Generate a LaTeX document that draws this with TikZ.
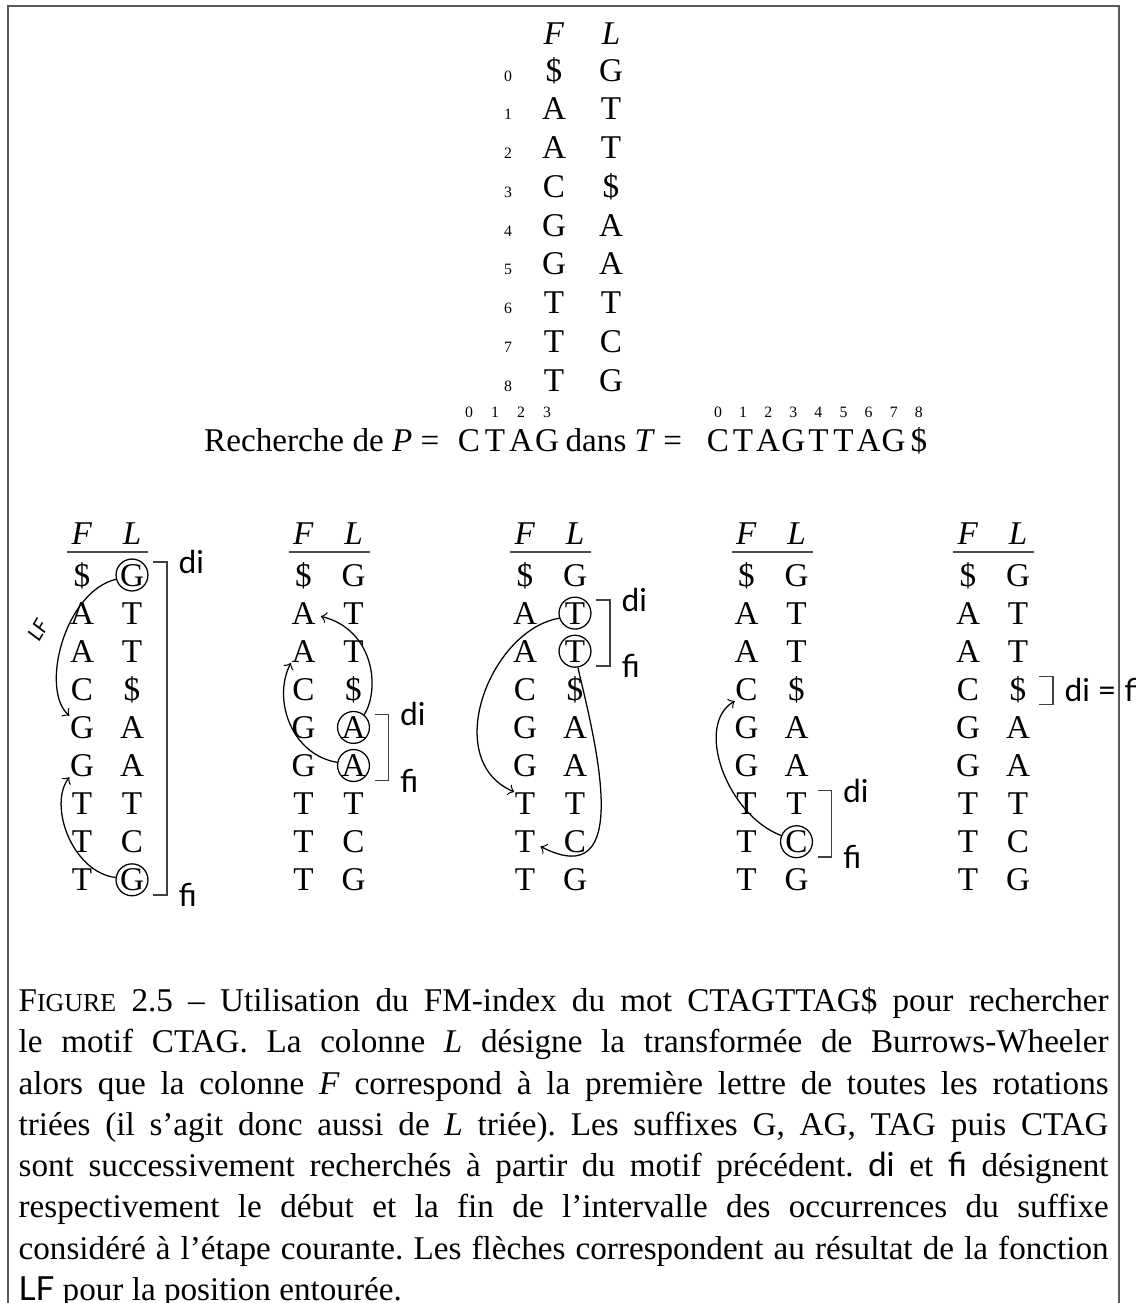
\documentclass[tikz,border=0pt]{standalone}
\usepackage{fontspec}
\setmainfont{Liberation Serif}
\newfontfamily\lblfont{Lato}
\usetikzlibrary{calc,arrows}

\begin{document}
\begin{tikzpicture}[x=0.3165pt,y=-0.3165pt]
\tikzstyle{chr}=[inner sep=0pt,text height=7pt,text depth=0pt,font=\fontsize{10.5}{12}\selectfont];
\tikzstyle{txt}=[inner sep=0pt,font=\fontsize{10.5}{12}\selectfont];
\tikzstyle{idx}=[inner sep=0pt,font=\fontsize{5}{6}\selectfont];
\tikzstyle{hit}=[circle,draw,inner sep=0pt,minimum size=10.1pt,line width=0.4pt];
\tikzstyle{lf}=[->,line width=0.4pt];
\tikzstyle{brk}=[line width=0.5pt,black!75];
\tikzstyle{rule}=[line width=0.5pt,black!70];
\tikzstyle{lbl}=[anchor=west,inner sep=0pt,font=\lblfont\fontsize{10}{12}\selectfont];

\useasboundingbox (0,0) rectangle (1136,1303);

% cadre
\draw[line width=0.6pt,black!65] (8,1310) |- (1119,6) -- (1119,1310);

% BWT complete, avec les positions
\node[chr] (F0) at (554,33) {\textit{F}};
\node[chr] (L0) at (611,33) {\textit{L}};
\foreach \f/\l [count=\i from 0] in {\textdollar/G,A/T,A/T,C/\textdollar,G/A,G/A,T/T,T/C,T/G} {
  \node[idx] (n0-\i) at (508,{76+38.75*\i}) {\i};
  \node[chr] (f0-\i) at (554,{70+38.75*\i}) {\f};
  \node[chr] (l0-\i) at (611,{70+38.75*\i}) {\l};
}

% motif et texte
\node[txt,anchor=base east] (req) at (440,451) {Recherche de \textit{P} =};
\foreach \c/\x [count=\i from 0] in {C/469,T/495,A/521,G/547} {
  \node[chr] (p\i) at (\x,440) {\c};
  \node[idx] (pi\i) at (\x,412) {\i};
}
\node[txt,anchor=base west] (dans) at (565,451) {dans \textit{T} =};
\foreach \c [count=\i from 0] in {C,T,A,G,T,T,A,G,\textdollar} {
  \node[chr] (s\i) at ({718+25.1*\i},440) {\c};
  \node[idx] (si\i) at ({718+25.1*\i},412) {\i};
}

% les 5 etapes
\foreach \t in {1,...,5} {
  \pgfmathsetmacro{\fx}{82+221.5*(\t-1)}
  \pgfmathsetmacro{\lx}{\fx+50}
  \node[chr] (F\t) at (\fx,533) {\textit{F}};
  \node[chr] (L\t) at (\lx,533) {\textit{L}};
  \draw[rule] (\fx-15,552) -- (\lx+16,552);
  \foreach \f/\l [count=\i from 0] in {\textdollar/G,A/T,A/T,C/\textdollar,G/A,G/A,T/T,T/C,T/G} {
    \node[chr] (f\t-\i) at (\fx,{575+38.1*\i}) {\f};
    \node[chr] (l\t-\i) at (\lx,{575+38.1*\i}) {\l};
  }
}

% positions entourees
\node[hit] (c1a) at (l1-0) {};
\node[hit] (c1b) at (l1-8) {};
\node[hit] (c2a) at (l2-4) {};
\node[hit] (c2b) at (l2-5) {};
\node[hit] (c3a) at (l3-1) {};
\node[hit] (c3b) at (l3-2) {};
\node[hit] (c4) at (l4-7) {};

% LF
\draw[lf] (c1a.195) .. controls (64,592) and (40,690) .. (f1-4.north west);
\draw[lf] (c1b.172) .. controls (72,872) and (48,805) .. (f1-5.south west);
\draw[lf] (c2a.50) .. controls (380,690) and (375,630) .. ([xshift=1.5pt,yshift=-1pt]f2-1.east);
\draw[lf] (c2b.169) .. controls (292,755) and (272,700) .. (f2-2.south west);
\draw[lf] (c3a.198) .. controls (490,630) and (440,760) .. (f3-6.north west);
\draw[lf] (c3b.280) .. controls (595,740) and (635,895) .. ([xshift=1.5pt,yshift=-1.5pt]f3-7.east);
\draw[lf] (c4.158) .. controls (727,815) and (694,725) .. (f4-3.south west);
\node[inner sep=0pt,rotate=60,font=\lblfont\itshape\fontsize{6.5}{8}\selectfont] (lf) at (38,630) {LF};

% intervalles di / fi
\draw[brk] ($(l1-0)+(21,-13)$) -- ++(14,0) |- ($(l1-8)+(21,15)$);
\node[lbl] (di1) at ($(l1-0)+(46,-13)$) {di};
\node[lbl] (fi1) at ($(l1-8)+(46,15)$) {fi};
\draw[brk] ($(l2-4)+(21,-13)$) -- ++(14,0) |- ($(l2-5)+(21,15)$);
\node[lbl] (di2) at ($(l2-4)+(46,-13)$) {di};
\node[lbl] (fi2) at ($(l2-5)+(46,15)$) {fi};
\draw[brk] ($(l3-1)+(21,-13)$) -- ++(14,0) |- ($(l3-2)+(21,15)$);
\node[lbl] (di3) at ($(l3-1)+(46,-13)$) {di};
\node[lbl] (fi3) at ($(l3-2)+(46,15)$) {fi};
\draw[brk] ($(l4-6)+(21,-13)$) -- ++(14,0) |- ($(l4-7)+(21,15)$);
\node[lbl] (di4) at ($(l4-6)+(46,-13)$) {di};
\node[lbl] (fi4) at ($(l4-7)+(46,15)$) {fi};
\draw[brk] ($(l5-3)+(21,-13)$) -- ++(14,0) |- ($(l5-3)+(21,15)$);
\node[lbl] (difi5) at ($(l5-3)+(46,1)$) {di = fi};

% legende
\node[anchor=north west,inner sep=0pt,text width=345pt,align=justify,font=\fontsize{10.5}{13.05}\selectfont\frenchspacing] (cap) at (18,987) {F{\fontsize{8.2}{10}\selectfont IGURE} 2.5 – Utilisation du FM-index du mot CTAGTTAG\$ pour rechercher\linebreak
le motif CTAG. La colonne \textit{L} désigne la transformée de Burrows-Wheeler\linebreak
alors que la colonne \textit{F} correspond à la première lettre de toutes les rotations\linebreak
triées (il s’agit donc aussi de \textit{L} triée). Les suffixes G, AG, TAG puis CTAG\linebreak
sont successivement recherchés à partir du motif précédent. {\lblfont di} et {\lblfont fi} désignent\linebreak
respectivement le début et la fin de l’intervalle des occurrences du suffixe\linebreak
considéré à l’étape courante. Les flèches correspondent au résultat de la fonction\linebreak
{\lblfont LF} pour la position entourée.};

\end{tikzpicture}
\end{document}
